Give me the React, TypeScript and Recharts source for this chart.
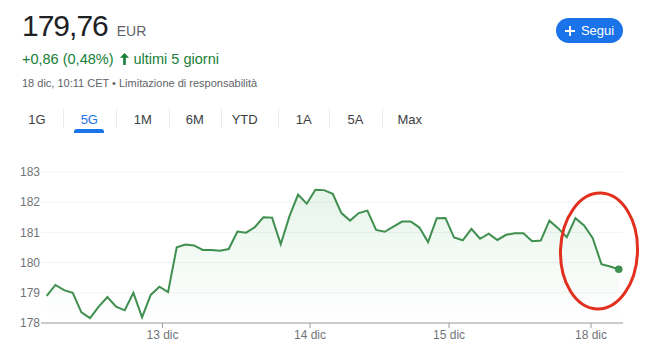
import React from 'react';
import { AreaChart, Area, XAxis, YAxis, CartesianGrid } from 'recharts';

// prezzi ogni 30 min circa, 12-18 dic
const prices = [
  178.9, 179.26, 179.09, 179.0, 178.35, 178.16, 178.54, 178.86, 178.54, 178.42,
  179.0, 178.19, 178.93, 179.2, 179.02, 180.51, 180.6, 180.57, 180.42, 180.42,
  180.39, 180.45, 181.03, 180.99, 181.17, 181.5, 181.49, 180.61, 181.53, 182.25,
  181.95, 182.41, 182.4, 182.28, 181.64, 181.39, 181.64, 181.72, 181.08, 181.02,
  181.19, 181.36, 181.36, 181.16, 180.68, 181.47, 181.48, 180.83, 180.74, 181.12,
  180.79, 180.96, 180.75, 180.92, 180.97, 180.97, 180.71, 180.73, 181.39, 181.14,
  180.84, 181.47, 181.23, 180.81, 179.95, 179.87, 179.78,
];

const dayTicks = [13.36, 30.38, 46.42, 62.8];
const dayLabels = ['13 dic', '14 dic', '15 dic', '18 dic'];
const yTicks = [178, 179, 180, 181, 182, 183];
const ranges = ['1G', '5G', '1M', '6M', 'YTD', '1A', '5A', 'Max'];
const rangeCenters = [37, 89.3, 142.7, 194.7, 244.7, 303.8, 355.5, 409.7];
const separators = [63.3, 115.7, 169, 221, 277.7, 329.3, 382.3];

const data = prices.map((p, i) => ({ i, price: p }));

const FONT = '"Liberation Sans", Arial, sans-serif';
const GREEN = '#3f8f4f';

const LastDot = (props: any) => {
  const { cx, cy, index } = props;
  if (index !== prices.length - 1) return <g key={`d${index}`} />;
  return <circle key={`d${index}`} cx={cx} cy={cy} r={3.8} fill={GREEN} />;
};

export default function App() {
  return (
    <div style={{ position: 'absolute', left: 0, top: 0, width: 660, height: 355, background: '#fff', fontFamily: FONT, overflow: 'hidden' }}>
      <div style={{ position: 'absolute', left: 22, top: 8, fontSize: 30, color: '#202124', letterSpacing: -1, lineHeight: '36px' }}>
        179,76
        <span style={{ fontSize: 14, color: '#5f6368', marginLeft: 9, letterSpacing: 0 }}>EUR</span>
      </div>
      <div style={{ position: 'absolute', left: 22, top: 50, fontSize: 14.5, color: '#188038', lineHeight: '18px', display: 'flex', alignItems: 'center' }}>
        <span>+0,86 (0,48%)</span>
        <svg width="9" height="12" viewBox="0 0 9 12" style={{ margin: '0 5px 0 6px' }}>
          <path d="M4.5 0 L9 4.8 L5.8 4.8 L5.8 12 L3.2 12 L3.2 4.8 L0 4.8 Z" fill="#188038" />
        </svg>
        <span>ultimi 5 giorni</span>
      </div>
      <div style={{ position: 'absolute', left: 22, top: 76, fontSize: 11, color: '#5f6368', lineHeight: '15px' }}>
        18 dic, 10:11 CET • Limitazione di responsabilità
      </div>

      {ranges.map((r, k) => (
        <div key={r} style={{ position: 'absolute', left: rangeCenters[k], top: 112, transform: 'translateX(-50%)', fontSize: 13, color: r === '5G' ? '#1a73e8' : '#3c4043', lineHeight: '15px' }}>
          {r}
        </div>
      ))}
      <div style={{ position: 'absolute', left: 74, top: 128.5, width: 30, height: 4, background: '#1a73e8', borderRadius: '3px 3px 0 0' }} />
      {separators.map((x) => (
        <div key={x} style={{ position: 'absolute', left: x, top: 109, width: 1, height: 19, background: '#e8eaed' }} />
      ))}

      <div style={{ position: 'absolute', left: 556, top: 18, width: 67, height: 25, borderRadius: 13, background: '#1a73e8', color: '#fff', fontSize: 13, display: 'flex', alignItems: 'center', justifyContent: 'center', gap: 6 }}>
        <svg width="10" height="10" viewBox="0 0 10 10">
          <path d="M5 0 V10 M0 5 H10" stroke="#fff" strokeWidth="1.8" />
        </svg>
        <span>Segui</span>
      </div>

      <div style={{ position: 'absolute', left: 0, top: 0 }}>
        <AreaChart width={660} height={355} data={data} margin={{ top: 172, right: 37, left: 0, bottom: 2 }}>
          <defs>
            <linearGradient id="fillGreen" x1="0" y1="0" x2="0" y2="1">
              <stop offset="0%" stopColor="#34a853" stopOpacity={0.2} />
              <stop offset="100%" stopColor="#34a853" stopOpacity={0} />
            </linearGradient>
          </defs>
          <CartesianGrid vertical={false} stroke="#f1f3f4" />
          <XAxis
            dataKey="i"
            type="number"
            domain={[-0.66, 66.49]}
            ticks={dayTicks}
            tickFormatter={(v) => dayLabels[dayTicks.indexOf(v)] ?? ''}
            height={30}
            tickSize={5}
            tickMargin={2}
            axisLine={{ stroke: '#9aa0a6' }}
            tickLine={{ stroke: '#9aa0a6' }}
            tick={{ fill: '#70757a', fontSize: 12, fontFamily: FONT }}
            interval={0}
          />
          <YAxis
            domain={[178, 183]}
            ticks={yTicks}
            width={41}
            axisLine={false}
            tickLine={false}
            tickSize={0}
            tickMargin={1}
            tick={{ fill: '#70757a', fontSize: 12, fontFamily: FONT }}
            interval={0}
          />
          <Area
            type="linear"
            dataKey="price"
            stroke={GREEN}
            strokeWidth={2}
            fill="url(#fillGreen)"
            dot={LastDot}
            activeDot={false}
            isAnimationActive={false}
          />
        </AreaChart>
      </div>

      <svg width={660} height={355} style={{ position: 'absolute', left: 0, top: 0, pointerEvents: 'none' }}>
        <ellipse cx={599} cy={251} rx={38.5} ry={58} transform="rotate(2 599 251)" fill="none" stroke="#e2301f" strokeWidth={3} />
      </svg>
    </div>
  );
}
